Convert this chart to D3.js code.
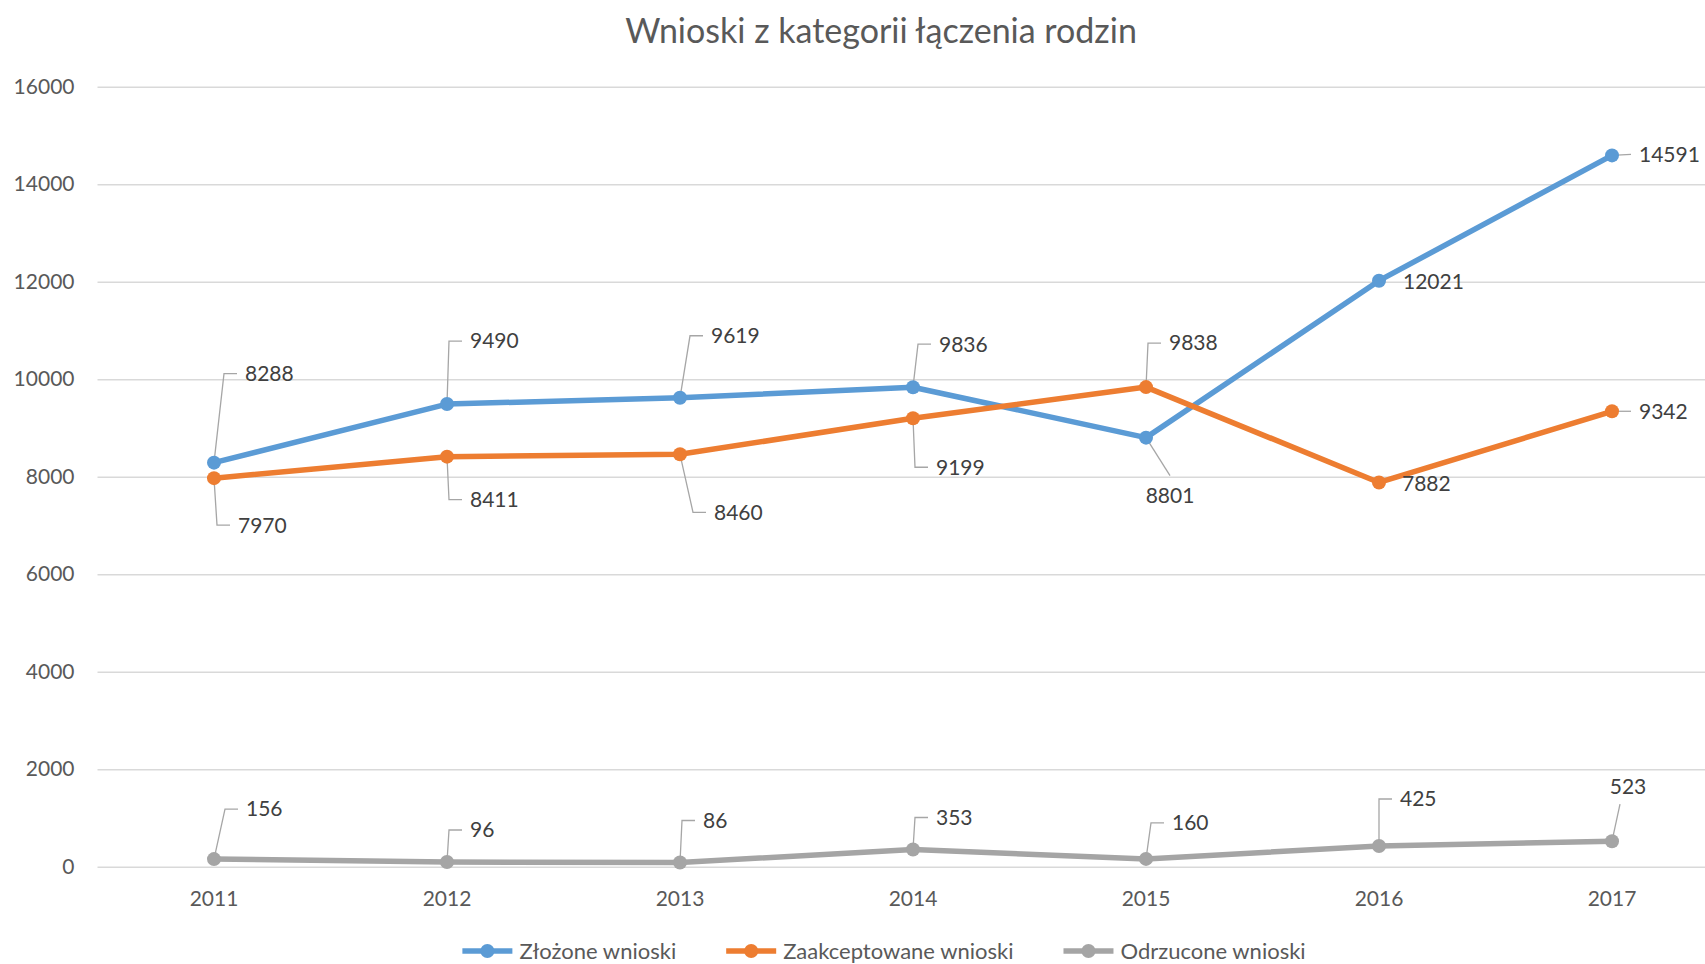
<!DOCTYPE html>
<html>
<head>
<meta charset="utf-8">
<script src="https://cdn.jsdelivr.net/npm/d3@7"></script>
<style>
  html, body { margin: 0; padding: 0; background: #fff; }
  svg { display: block; font-family: Lato, "Noto Sans", sans-serif; }
</style>
</head>
<body>
<svg id="chart" width="1705" height="964"></svg>
<script>
// ---- data ----
const title = "Wnioski z kategorii łączenia rodzin";
const years = ["2011", "2012", "2013", "2014", "2015", "2016", "2017"];
const seriesNames = ["Złożone wnioski", "Zaakceptowane wnioski", "Odrzucone wnioski"];
const zlozone = [8288, 9490, 9619, 9836, 8801, 12021, 14591];
const zaakceptowane = [7970, 8411, 8460, 9199, 9838, 7882, 9342];
const odrzucone = [156, 96, 86, 353, 160, 425, 523];
const yTicks = [0, 2000, 4000, 6000, 8000, 10000, 12000, 14000, 16000];

// ---- label layout (offsets from point: dx to text, dy to text centre, anchor, leader type) ----
const labelsZlozone = [
  [31, -89, "start", "elbow"], [23, -63, "start", "elbow"], [31, -62, "start", "elbow"],
  [26, -43, "start", "elbow"], [24, 58, "middle", "below"], [24, 1, "start", "none"],
  [27, -1, "start", "h"]
];
const labelsZaakc = [
  [24, 47, "start", "elbow"], [23, 43, "start", "elbow"], [34, 58, "start", "elbow"],
  [23, 49, "start", "elbow"], [23, -44, "start", "elbow"], [23, 1, "start", "none"],
  [27, 0, "start", "h"]
];
const labelsOdrz = [
  [32, -50, "start", "elbow"], [23, -32, "start", "elbow"], [23, -42, "start", "elbow"],
  [23, -32, "start", "elbow"], [26, -36, "start", "elbow"], [21, -47, "start", "elbow"],
  [16, -55, "middle", "above"]
];

const colors = ["#5B9BD5", "#ED7D31", "#A5A5A5"];
const series = [
  { name: seriesNames[0], values: zlozone, color: colors[0], labels: labelsZlozone },
  { name: seriesNames[1], values: zaakceptowane, color: colors[1], labels: labelsZaakc },
  { name: seriesNames[2], values: odrzucone, color: colors[2], labels: labelsOdrz }
];

const W = 1705, H = 964;
const plot = { left: 97.5, right: 1728.5, top: 86.7, bottom: 866.7 };

const svg = d3.select("#chart");
const x = d3.scaleBand().domain(years).range([plot.left, plot.right]);
const cx = d => x(d) + x.bandwidth() / 2;
const y = d3.scaleLinear().domain([0, 16000]).range([plot.bottom, plot.top]);

// title
svg.append("text")
  .attr("x", 881).attr("y", 31).attr("dy", "0.35em")
  .attr("text-anchor", "middle")
  .attr("font-size", 34).attr("fill", "#595959")
  .text(title);

// gridlines + y labels
const yAxis = d3.axisLeft(y).tickValues(yTicks).tickSize(-(plot.right - plot.left)).tickPadding(23).tickFormat(d3.format("d"));
const gy = svg.append("g").attr("transform", `translate(${plot.left},0)`).call(yAxis);
gy.select(".domain").remove();
gy.selectAll(".tick line").attr("stroke", "#D9D9D9").attr("stroke-width", 1.5);
gy.selectAll(".tick text").attr("fill", "#595959").attr("font-size", 21).attr("font-family", "Lato");

// x axis labels
const xAxis = d3.axisBottom(x).tickSize(0).tickPadding(24);
const gx = svg.append("g").attr("transform", `translate(0,${plot.bottom})`).call(xAxis);
gx.select(".domain").remove();
gx.selectAll(".tick text").attr("fill", "#595959").attr("font-size", 21).attr("font-family", "Lato");

// leader lines
const leaderG = svg.append("g").attr("fill", "none").attr("stroke", "#A6A6A6").attr("stroke-width", 1.3);
series.forEach(s => {
  s.values.forEach((v, i) => {
    const [dx, dy, anchor, type] = s.labels[i];
    const px = cx(years[i]), py = y(v);
    const tx = px + dx, ty = py + dy;
    let pts = null;
    if (type === "elbow") pts = [[px, py], [tx - 21, ty], [tx - 8, ty]];
    else if (type === "h") pts = [[px, py], [tx - 8, ty]];
    else if (type === "below") pts = [[px, py], [tx, ty - 20]];
    else if (type === "above") pts = [[px, py], [tx - 8, ty + 18]];
    if (pts) leaderG.append("path").attr("d", d3.line()(pts));
  });
});

// series lines + markers
const line = d3.line().x((d, i) => cx(years[i])).y(d => y(d));
series.forEach(s => {
  svg.append("path").datum(s.values)
    .attr("fill", "none").attr("stroke", s.color).attr("stroke-width", 5.5)
    .attr("stroke-linejoin", "round").attr("stroke-linecap", "round")
    .attr("d", line);
  svg.append("g").selectAll("circle").data(s.values).join("circle")
    .attr("cx", (d, i) => cx(years[i])).attr("cy", d => y(d))
    .attr("r", 7).attr("fill", s.color);
});

// data labels
series.forEach(s => {
  svg.append("g").selectAll("text").data(s.values).join("text")
    .attr("x", (d, i) => cx(years[i]) + s.labels[i][0])
    .attr("y", (d, i) => y(d) + s.labels[i][1])
    .attr("dy", "0.35em")
    .attr("text-anchor", (d, i) => s.labels[i][2])
    .attr("font-size", 21).attr("fill", "#404040")
    .text(d => d);
});

// legend
const legend = svg.append("g").attr("transform", "translate(0,951)");
const items = legend.selectAll("g").data(series).join("g");
items.append("text").attr("class", "lt").attr("dy", "0.35em")
  .attr("font-size", 22).attr("fill", "#595959").text(d => d.name);
const lineW = 50, gapT = 7, gapItem = 50;
let widths = [];
items.each(function() { widths.push(d3.select(this).select("text").node().getComputedTextLength()); });
const total = widths.reduce((a, b) => a + b, 0) + series.length * (lineW + gapT) + (series.length - 1) * gapItem;
let xPos = 884 - total / 2;
items.each(function(d, i) {
  const g = d3.select(this);
  g.attr("transform", `translate(${xPos},0)`);
  g.append("line").attr("x1", 0).attr("x2", lineW).attr("y1", 0).attr("y2", 0)
    .attr("stroke", d.color).attr("stroke-width", 5.5);
  g.append("circle").attr("cx", lineW / 2).attr("cy", 0).attr("r", 7).attr("fill", d.color);
  g.select("text").attr("x", lineW + gapT);
  xPos += lineW + gapT + widths[i] + gapItem;
});
</script>
</body>
</html>
